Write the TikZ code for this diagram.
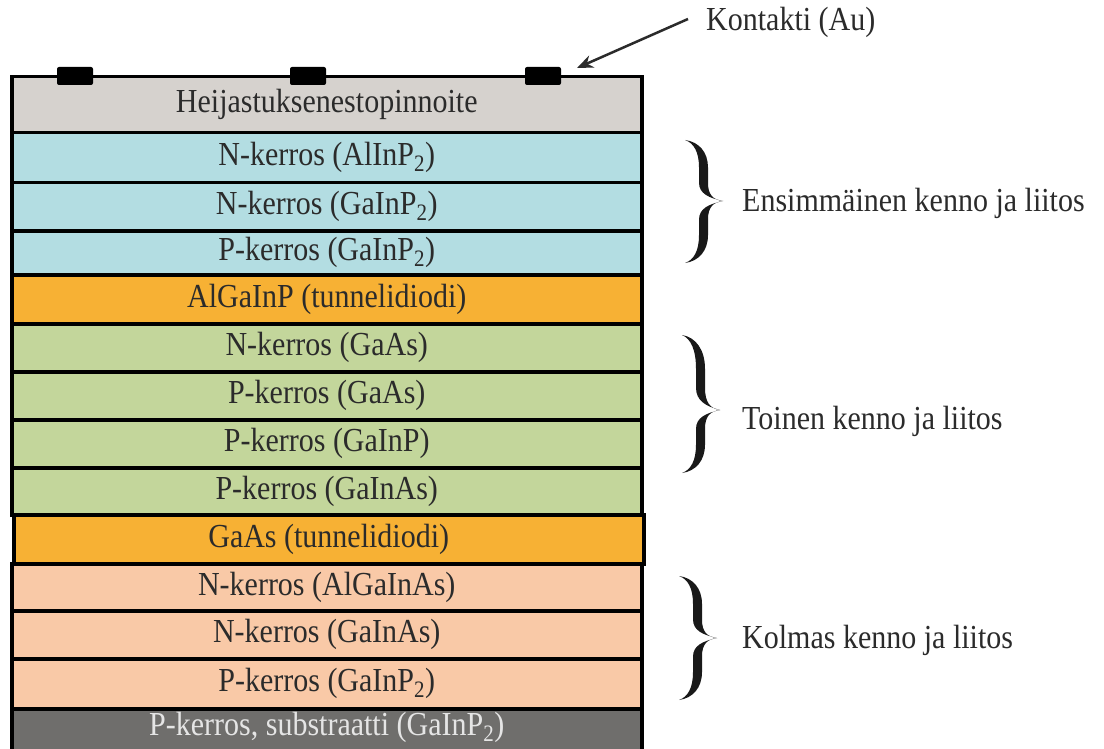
\documentclass[tikz,border=0pt]{standalone}
\usepackage{fontspec}
\setmainfont{Liberation Serif}
\newfontfamily\tnr{Liberation Serif}
\usetikzlibrary{arrows.meta}
\definecolor{coatc}{HTML}{D6D2CE}
\definecolor{bluec}{HTML}{B3DDE2}
\definecolor{orangec}{HTML}{F7B134}
\definecolor{greenc}{HTML}{C3D69B}
\definecolor{salmonc}{HTML}{F9C9A7}
\definecolor{subc}{HTML}{6F6E6C}
\definecolor{txtc}{HTML}{2B2B2B}
\newcommand{\stretchtxt}[1]{\scalebox{1}[1.12]{#1}}
\tikzset{
  layer/.style={rectangle, draw=black, line width=3.5pt, anchor=north west,
    minimum width=630pt, inner sep=0pt, text=txtc,
    font=\tnr\fontsize{30}{34}\selectfont},
  contact/.style={rectangle, fill=black, rounded corners=2pt, minimum width=36pt,
    minimum height=18pt, inner sep=0pt},
  label/.style={anchor=west, inner sep=0pt, text=txtc, font=\tnr\fontsize{30}{34}\selectfont},
  bracefill/.style={fill=black!90}
}
\newcommand{\mybrace}[4]{% x, ytop, ytip, ybot
  \begin{scope}[shift={(#1,#3)}, yscale={#3-#2}]
    \path[bracefill] (0,-1) .. controls (14,-0.97) and (23,-0.8) .. (23,-0.55)
      -- (23,-0.3) .. controls (23,-0.1) and (28,-0.02) .. (38,0)
      .. controls (24,-0.05) and (14,-0.12) .. (14,-0.3)
      -- (14,-0.55) .. controls (14,-0.8) and (9,-0.95) .. (0,-1) -- cycle;
  \end{scope}
  \begin{scope}[shift={(#1,#3)}, yscale={#4-#3}]
    \path[bracefill] (0,1) .. controls (14,0.97) and (23,0.8) .. (23,0.55)
      -- (23,0.3) .. controls (23,0.1) and (28,0.02) .. (38,0)
      .. controls (24,0.05) and (14,0.12) .. (14,0.3)
      -- (14,0.55) .. controls (14,0.8) and (9,0.95) .. (0,1) -- cycle;
  \end{scope}}
\begin{document}
\begin{tikzpicture}[x=1pt, y=-1pt]
\clip (0,0) rectangle (1104,749);
\fill[white] (0,0) rectangle (1104,749);
% layers
\node[layer, fill=coatc, minimum height=56pt] (l1) at (10,75) {\stretchtxt{Heijastuksenestopinnoite}};
\node[layer, fill=bluec, minimum height=50pt] (l2) at (10,131) {\stretchtxt{N-kerros (AlInP\textsubscript{2})}};
\node[layer, fill=bluec, minimum height=48pt] (l3) at (10,181) {\stretchtxt{N-kerros (GaInP\textsubscript{2})}};
\node[layer, fill=bluec, minimum height=44pt] (l4) at (10,229) {\stretchtxt{P-kerros (GaInP\textsubscript{2})}};
\node[layer, fill=orangec, minimum height=49pt] (l5) at (10,273) {\stretchtxt{AlGaInP (tunnelidiodi)}};
\node[layer, fill=greenc, minimum height=48pt] (l6) at (10,322) {\stretchtxt{N-kerros (GaAs)}};
\node[layer, fill=greenc, minimum height=48pt] (l7) at (10,370) {\stretchtxt{P-kerros (GaAs)}};
\node[layer, fill=greenc, minimum height=48pt] (l8) at (10,418) {\stretchtxt{P-kerros (GaInP)}};
\node[layer, fill=greenc, minimum height=47pt] (l9) at (10,466) {\stretchtxt{P-kerros (GaInAs)}};
\node[layer, fill=orangec, minimum height=49pt] (l10) at (12,513) {\stretchtxt{GaAs (tunnelidiodi)}};
\node[layer, fill=salmonc, minimum height=47pt] (l11) at (10,562) {\stretchtxt{N-kerros (AlGaInAs)}};
\node[layer, fill=salmonc, minimum height=48pt] (l12) at (10,609) {\stretchtxt{N-kerros (GaInAs)}};
\node[layer, fill=salmonc, minimum height=50pt] (l13) at (10,657) {\stretchtxt{P-kerros (GaInP\textsubscript{2})}};
\node[layer, fill=subc, minimum height=47pt] (l14) at (10,707) {};
\node[inner sep=0pt, text=white!90!black, font=\tnr\fontsize{30}{34}\selectfont] (t14) at ([yshift=5pt]l14.center) {\stretchtxt{P-kerros, substraatti (GaInP\textsubscript{2})}};
% contacts
\node[contact] (c1) at (75,76) {};
\node[contact] (c2) at (308,76) {};
\node[contact] (c3) at (543,76) {};
% contact label and arrow
\node[label] (kont) at (706,22) {\stretchtxt{Kontakti (Au)}};
\coordinate (ctip) at (577,68);
\draw[line width=2.5pt, draw=txtc, -{Stealth[length=16pt, width=13pt]}] ([xshift=-18pt, yshift=3pt]kont.west) -- (ctip);
% braces
\mybrace{685}{140}{201}{263}
\mybrace{682}{335}{410}{473}
\mybrace{679}{576}{638}{700}
\node[label] (g1) at (742,203) {\stretchtxt{Ensimmäinen kenno ja liitos}};
\node[label] (g2) at (742,421) {\stretchtxt{Toinen kenno ja liitos}};
\node[label] (g3) at (742,640) {\stretchtxt{Kolmas kenno ja liitos}};
\end{tikzpicture}
\end{document}
